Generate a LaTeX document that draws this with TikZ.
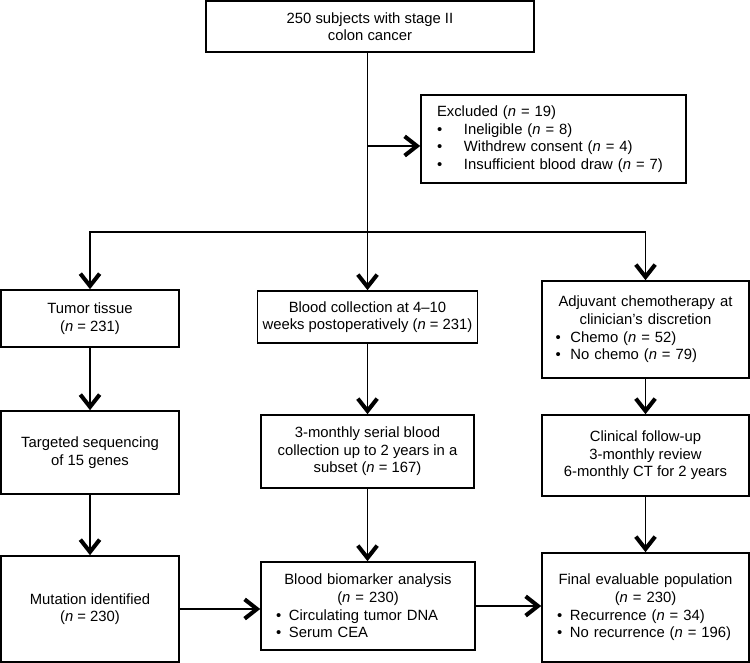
\documentclass[tikz,border=0pt]{standalone}
\usepackage{fontspec}
\setmainfont{Liberation Sans}
\usetikzlibrary{arrows.meta,positioning}
\newcommand{\bul}[1][0.26cm]{\makebox[#1][l]{\textbullet}}
\newcommand{\itm}[2][0.26cm]{\makebox[\linewidth][l]{\bul[#1]#2}}
\newcommand{\hn}{\textit{n}}

\tikzset{
	box/.style={draw=black, line width=0.9pt, align=center, inner xsep=0.1cm, inner ysep=0pt, font=\fontsize{8.44}{10}\selectfont},
	arr/.style={line width=0.8pt, -{Straight Barb[length=7pt,width=11pt,line width=2.3pt]}}
}

\begin{document}
\begin{tikzpicture}
	\useasboundingbox (0,0) rectangle (15,-13.26);
	% top and excluded
	\node[box, minimum width=6.56cm, minimum height=1.02cm] (top) at (7.40,-0.53) {250 subjects with stage II\\colon cancer};
	\node[box, align=left, inner xsep=0.32cm, text width=4.66cm, minimum height=1.76cm] (excl) at (11.07,-2.78) {Excluded (\hn{} = 19)\\\bul[0.54cm]Ineligible (\hn{} = 8)\\\bul[0.54cm]Withdrew consent (\hn{} = 4)\\\bul[0.54cm]Insufficient blood draw (\hn{} = 7)};
	% first row
	\node[box, minimum width=3.56cm, minimum height=1.14cm] (tumor) at (1.80,-6.37) {Tumor tissue\\(\hn{} = 231)};
	\node[box, minimum width=4.30cm, minimum height=1.04cm] (blood) at (7.35,-6.34) {Blood collection at 4--10\\weeks postoperatively (\hn{} = 231)};
	\node[box, inner xsep=0.27cm, text width=3.60cm, minimum height=1.94cm] (adj) at (12.91,-6.59) {Adjuvant chemotherapy at\\clinician's discretion\\\itm[0.3cm]{Chemo (\hn{} = 52)}\\\itm[0.3cm]{No chemo (\hn{} = 79)}};
	% second row
	\node[box, minimum width=3.56cm, minimum height=1.66cm] (targ) at (1.80,-9.05) {Targeted sequencing\\of 15 genes};
	\node[box, minimum width=4.26cm, minimum height=1.46cm] (monthly) at (7.35,-9.03) {3-monthly serial blood\\collection up to 2 years in a\\subset (\hn{} = 167)};
	\node[box, minimum width=4.14cm, minimum height=1.62cm] (clin) at (12.91,-9.11) {Clinical follow-up\\3-monthly review\\6-monthly CT for 2 years};
	% third row
	\node[box, minimum width=3.56cm, minimum height=2.12cm] (mut) at (1.80,-12.18) {Mutation identified\\(\hn{} = 230)};
	\node[box, inner xsep=0.3cm, text width=3.68cm, minimum height=1.76cm] (bio) at (7.36,-12.12) {Blood biomarker analysis\\(\hn{} = 230)\\\itm{Circulating tumor DNA}\\\itm{Serum CEA}};
	\node[box, inner xsep=0.3cm, text width=3.54cm, minimum height=2.18cm] (final) at (12.91,-12.15) {Final evaluable population\\(\hn{} = 230)\\\itm{Recurrence (\hn{} = 34)}\\\itm{No recurrence (\hn{} = 196)}};
	% connectors
	\coordinate (split) at (7.35,-4.64);
	\draw [arr] (top.south -| blood.north) to (blood.north);
	\draw [arr] ([yshift=-0.14cm]excl.west -| blood.north) to ([yshift=-0.14cm]excl.west);
	\draw [arr] (split) -| (tumor.north);
	\draw [arr] (split) -| (adj.north);
	\draw [arr] (tumor) to (targ);
	\draw [arr] (blood) to (monthly);
	\draw [arr] (adj) to (clin);
	\draw [arr] (targ) to (mut);
	\draw [arr] (monthly.south) to (monthly.south |- bio.north);
	\draw [arr] (clin) to (final);
	\draw [arr] (mut.east) to (mut.east -| bio.west);
	\draw [arr] (bio.east) to (bio.east -| final.west);
\end{tikzpicture}
\end{document}
